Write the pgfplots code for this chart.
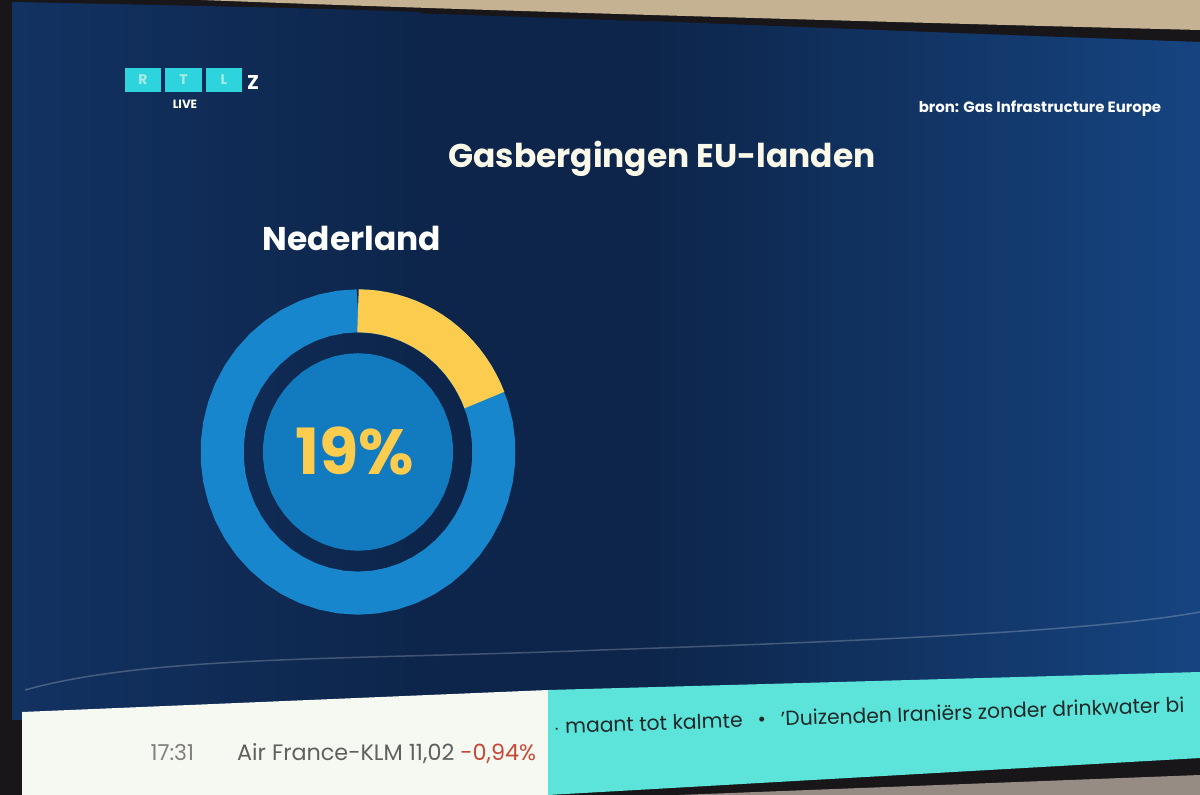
\documentclass[border=0pt]{standalone}
\usepackage{pgfplots}
\pgfplotsset{compat=1.18}
\usepackage{pgfplotstable}
\usepackage{fontspec}
\setmainfont{Poppins}

\definecolor{navy}{RGB}{13,37,74}
\definecolor{navyleft}{RGB}{18,50,98}
\definecolor{navyright}{RGB}{22,68,128}
\definecolor{bezel}{RGB}{24,22,24}
\definecolor{wall}{RGB}{196,178,146}
\definecolor{wallgray}{RGB}{150,140,132}
\definecolor{ringblue}{RGB}{24,134,204}
\definecolor{diskblue}{RGB}{18,123,192}
\definecolor{gold}{RGB}{252,204,78}
\definecolor{cream}{RGB}{250,248,232}
\definecolor{logocyan}{RGB}{45,212,222}
\definecolor{tickwhite}{RGB}{246,248,242}
\definecolor{tickcyan}{RGB}{92,228,218}
\definecolor{tickgray}{RGB}{96,96,96}
\definecolor{tickred}{RGB}{196,72,52}
\definecolor{tickdark}{RGB}{30,40,40}

% gevuld deel: 0 .. 19 procent
\pgfplotstableread[row sep=\\]{
p\\0\\1\\2\\3\\4\\5\\6\\7\\8\\9\\10\\11\\12\\13\\14\\15\\16\\17\\18\\19\\
}\filled

% hele ring, 0 .. 100 procent
\pgfplotstableread[row sep=\\]{
p\\0\\2\\4\\6\\8\\10\\12\\14\\16\\18\\20\\22\\24\\26\\28\\30\\32\\34\\36\\38\\40\\42\\44\\46\\48\\50\\52\\54\\56\\58\\60\\62\\64\\66\\68\\70\\72\\74\\76\\78\\80\\82\\84\\86\\88\\90\\92\\94\\96\\98\\100\\
}\fullring

\begin{document}
\begin{tikzpicture}
\useasboundingbox (0,0) rectangle (1200bp,795bp);

\begin{axis}[
at={(0,0)}, anchor=south west,
width=1200bp, height=795bp, scale only axis,
xmin=0, xmax=1200, ymin=0, ymax=795,
y dir=reverse,
hide axis, clip=false
]
% tv en muur
\fill[bezel] (0,0) rectangle (1200,795);
\fill[wall] (150,-2) -- (1200,-2) -- (1200,30) .. controls (800,20) and (400,8) .. (150,-2) -- cycle;
\fill[navy]
  (12,2) .. controls (400,10) and (800,28) .. (1200,42) -- (1200,700) -- (12,720) -- cycle;
\shade[left color=navyleft, right color=navy]
  (12,2) .. controls (150,5) and (280,7) .. (420,12) -- (420,716) -- (12,720) -- cycle;
\shade[left color=navy, right color=navyright]
  (650,21) .. controls (850,29) and (1000,35) .. (1200,42) -- (1200,700) -- (650,708) -- cycle;
\draw[white, opacity=0.22, line width=1.5bp]
  (25,690) .. controls (150,655) and (350,660) .. (600,650) .. controls (900,640) and (1100,630) .. (1200,612);
\fill[wallgray] (548,800) -- (1200,775) -- (1200,800) -- cycle;
% ticker
\fill[tickwhite] (22,712) -- (548,690) -- (548,800) -- (22,800) -- cycle;
\fill[tickcyan] (548,690) -- (1200,672) -- (1200,758) -- (548,795) -- cycle;
\node[anchor=base west, font=\fontsize{22}{24}\selectfont, text=tickgray!80] at (147,760) {17:31};
\node[anchor=base west, font=\fontsize{22.4}{25}\selectfont, text=tickgray, inner sep=0] at (237,760)
  {Air France-KLM 11,02 \textcolor{tickred}{-0,94\%}};
\node[anchor=base west, font=\fontsize{20.4}{23}\selectfont, text=tickdark, rotate=2, inner sep=0] at (554,734)
  {$\cdot$ maant tot kalmte\hspace{15bp}\textbullet\hspace{15bp}'Duizenden Iraniërs zonder drinkwater bi};
% logo
\fill[logocyan] (125,68) rectangle (161,92);
\fill[logocyan] (165,68) rectangle (202,92);
\fill[logocyan] (206,68) rectangle (242,92);
\node[text=cream!60!logocyan, font=\fontsize{14}{15}\selectfont\bfseries] at (143,80) {R};
\node[text=cream!60!logocyan, font=\fontsize{14}{15}\selectfont\bfseries] at (183.5,80) {T};
\node[text=cream!60!logocyan, font=\fontsize{14}{15}\selectfont\bfseries] at (224,80) {L};
\node[text=white, font=\fontsize{20}{22}\selectfont\bfseries] at (253,83) {Z};
\node[text=white, font=\fontsize{12}{13}\selectfont\bfseries] at (185,104) {LIVE};
% teksten
\node[anchor=base, text=white, font=\fontsize{15}{17}\selectfont\bfseries] at (1040,113) {bron: Gas Infrastructure Europe};
\node[anchor=base, text=cream, font=\fontsize{33}{36}\selectfont\bfseries] at (662,167) {Gasbergingen EU-landen};
\node[anchor=base, text=white, font=\fontsize{33}{36}\selectfont\bfseries] at (352,250) {Nederland};
\end{axis}

\begin{axis}[
at={(358bp,343bp)}, anchor=center,
width=314bp, height=326bp, scale only axis,
xmin=-1, xmax=1, ymin=-1, ymax=1,
hide axis, clip=false
]
\addplot[draw=none, fill=diskblue, data cs=polar]
  table[x index=0, y index=0, x expr={90-3.6*\thisrow{p}}, y expr=0.606] {\fullring};
\addplot[ringblue, line width=43bp, data cs=polar]
  table[x index=0, y index=0, x expr={90-3.6*\thisrow{p}}, y expr=0.866] {\fullring};
\addplot[gold, line width=43bp, data cs=polar]
  table[x index=0, y index=0, x expr={90-3.6*\thisrow{p}}, y expr=0.866] {\filled};
\node[anchor=base, text=gold, font=\fontsize{64}{70}\selectfont\bfseries] at (axis cs:-0.02,-0.14) {19\%};
\end{axis}
\end{tikzpicture}
\end{document}
